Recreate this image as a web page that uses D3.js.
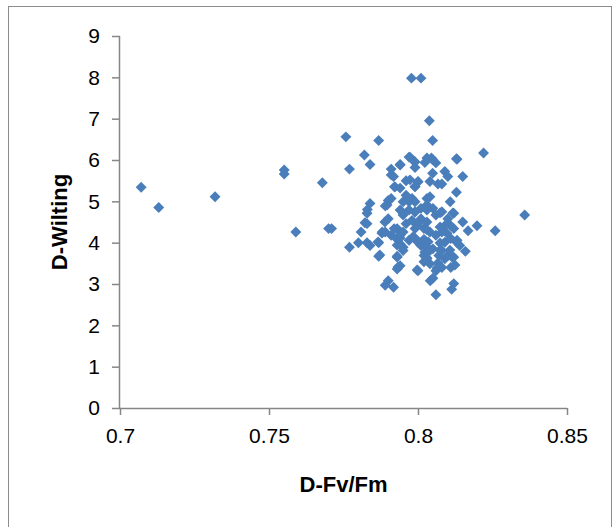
<!DOCTYPE html>
<html>
<head>
<meta charset="utf-8">
<script src="https://cdn.jsdelivr.net/npm/d3@7"></script>
<style>
  html, body { margin: 0; padding: 0; background: #fff; }
  svg { display: block; }
</style>
</head>
<body>
<script>
// D-Fv/Fm vs D-Wilting observations
const fvfm = [
  0.7071, 0.713, 0.7319, 0.7551, 0.7551, 0.759, 0.7679, 0.770, 0.771, 0.7758,
  0.777, 0.777, 0.782, 0.7839, 0.7868, 0.7978, 0.801, 0.8038, 0.8049, 0.822,
  0.8358, 0.8259, 0.8198, 0.8168, 0.815, 0.8129, 0.8129, 0.8108, 0.815, 0.8159,
  0.812, 0.8113, 0.806, 0.8041, 0.805, 0.800, 0.7918, 0.789, 0.790, 0.793,
  0.794, 0.793, 0.7868, 0.7868, 0.7839, 0.7829, 0.780, 0.7809, 0.7829, 0.7829,
  0.783, 0.7839, 0.789, 0.788, 0.790, 0.789, 0.790, 0.791, 0.791, 0.791,
  0.7918, 0.794, 0.7921, 0.794, 0.796, 0.797, 0.7987, 0.799, 0.800, 0.799,
  0.8023, 0.8045, 0.8049, 0.806, 0.8049, 0.804, 0.808, 0.809, 0.810, 0.803,
  0.796, 0.798, 0.799, 0.795, 0.794, 0.795, 0.797, 0.799, 0.801, 0.803,
  0.805, 0.806, 0.808, 0.812, 0.810, 0.811, 0.812, 0.809, 0.808, 0.806,
  0.804, 0.802, 0.800, 0.801, 0.803, 0.798, 0.796, 0.793, 0.794, 0.795,
  0.793, 0.794, 0.795, 0.795, 0.799, 0.800, 0.801, 0.802, 0.803, 0.802,
  0.803, 0.802, 0.804, 0.806, 0.808, 0.807, 0.808, 0.809, 0.811, 0.813,
  0.814, 0.810, 0.812, 0.811, 0.809, 0.804, 0.805, 0.797, 0.799, 0.797,
  0.792, 0.791,
  0.7896, 0.7950, 0.7990, 0.8030, 0.8074, 0.8117, 0.7822, 0.7889, 0.7930, 0.7997,
  0.8030, 0.8074, 0.8097, 0.8131, 0.7879, 0.7940, 0.7983, 0.8034, 0.8074, 0.7866,
  0.7930, 0.8023, 0.8074, 0.8107, 0.7872, 0.7930, 0.8030, 0.8067, 0.8114, 0.8124,
  0.7933, 0.7997, 0.8064, 0.8131, 0.7973, 0.7990, 0.8030, 0.7940, 0.7973, 0.8000,
  0.8067, 0.7923, 0.7990, 0.8040
];
const wilting = [
  5.34, 4.85, 5.11, 5.76, 5.66, 4.26, 5.45, 4.34, 4.34, 6.56,
  5.78, 3.89, 6.12, 5.89, 6.47, 7.98, 7.98, 6.95, 6.47, 6.17,
  4.67, 4.29, 4.41, 4.29, 5.60, 6.03, 5.22, 4.99, 4.50, 3.79,
  3.01, 2.87, 2.74, 3.08, 3.14, 3.32, 2.92, 2.97, 3.08, 3.36,
  3.44, 3.67, 3.67, 4.00, 3.93, 4.00, 4.00, 4.26, 4.46, 4.71,
  4.80, 4.95, 4.26, 4.26, 4.58, 4.89, 5.02, 5.07, 5.78, 5.64,
  5.60, 5.89, 5.35, 5.32, 5.50, 6.07, 5.97, 5.82, 5.48, 5.36,
  5.94, 6.05, 6.01, 5.93, 5.68, 5.48, 5.42, 5.72, 5.60, 5.07,
  5.15, 5.07, 4.99, 4.99, 4.79, 4.67, 4.79, 4.75, 4.83, 4.91,
  4.83, 4.67, 4.75, 4.71, 4.58, 4.41, 4.34, 4.41, 4.26, 4.18,
  4.26, 4.34, 4.46, 4.58, 4.50, 4.54, 4.46, 4.34, 4.18, 4.26,
  4.08, 3.97, 3.89, 3.81, 4.11, 4.01, 3.93, 4.08, 3.89, 3.69,
  3.61, 3.54, 3.49, 3.32, 3.40, 3.69, 3.81, 4.01, 4.10, 4.01,
  3.93, 3.69, 3.65, 3.40, 3.61, 3.81, 3.85, 4.06, 4.34, 4.99,
  4.34, 4.18,
  4.91, 4.72, 4.74, 4.79, 4.72, 4.72, 4.48, 4.50, 4.31, 4.43,
  4.31, 4.38, 4.23, 4.06, 4.23, 4.11, 4.14, 4.02, 3.99, 4.02,
  3.94, 3.77, 3.82, 3.82, 3.70, 3.65, 3.63, 3.51, 3.65, 3.46,
  3.41, 3.34, 3.39, 6.02, 6.07, 5.95, 6.05, 5.88, 5.52, 5.47,
  5.42, 5.35, 5.35, 5.11
];
const xTicks = [0.7, 0.75, 0.8, 0.85];
const yTicks = [0, 1, 2, 3, 4, 5, 6, 7, 8, 9];
const xTitle = "D-Fv/Fm";
const yTitle = "D-Wilting";

const W = 613, H = 527;
const plot = { left: 120, right: 567, top: 36, bottom: 408 };
const axisColor = "#868686";
const markColor = "#4A7EBB";
const font = "'Liberation Sans', Arial, sans-serif";

const svg = d3.select("body").append("svg")
  .attr("width", W).attr("height", H);

// chart frame
svg.append("rect")
  .attr("x", 8.5).attr("y", 6.5)
  .attr("width", 603).attr("height", 530)
  .attr("fill", "#fff").attr("stroke", "#8c8c8c").attr("stroke-width", 1);

const x = d3.scaleLinear().domain([0.7, 0.85]).range([plot.left, plot.right]);
const y = d3.scaleLinear().domain([0, 9]).range([plot.bottom, plot.top]);

const xAxis = svg.append("g")
  .attr("transform", `translate(0,${plot.bottom})`)
  .call(d3.axisBottom(x).tickValues(xTicks).tickSize(7).tickPadding(13)
    .tickFormat(d => String(+d.toFixed(2))));
const yAxis = svg.append("g")
  .attr("transform", `translate(${plot.left},0)`)
  .call(d3.axisLeft(y).tickValues(yTicks).tickSize(8).tickPadding(12)
    .tickFormat(d3.format("d")));

[xAxis, yAxis].forEach(g => {
  g.select(".domain").attr("stroke", axisColor).attr("stroke-width", 1.5);
  g.selectAll(".tick line").attr("stroke", axisColor).attr("stroke-width", 1.5);
  g.selectAll(".tick text").attr("fill", "#000")
    .style("font-family", font).style("font-size", "21px");
});
// plain axis lines without outer end caps
xAxis.select(".domain").attr("d", `M${plot.left},0.5H${plot.right}`);
yAxis.select(".domain").attr("d", `M-0.5,${plot.bottom}V${plot.top}`);

// points as diamonds
const diamond = d3.symbol().type(d3.symbolDiamond2).size(76);
svg.append("g").selectAll("path")
  .data(d3.range(fvfm.length))
  .join("path")
  .attr("transform", i => `translate(${x(fvfm[i])},${y(wilting[i])})`)
  .attr("d", diamond)
  .attr("fill", markColor);

// axis titles
svg.append("text")
  .attr("x", (plot.left + plot.right) / 2).attr("y", 492)
  .attr("text-anchor", "middle")
  .style("font-family", font).style("font-size", "22px").style("font-weight", "bold")
  .text(xTitle);
svg.append("text")
  .attr("transform", `translate(67,${(plot.top + plot.bottom) / 2}) rotate(-90)`)
  .attr("text-anchor", "middle")
  .style("font-family", font).style("font-size", "22px").style("font-weight", "bold")
  .text(yTitle);
</script>
</body>
</html>
